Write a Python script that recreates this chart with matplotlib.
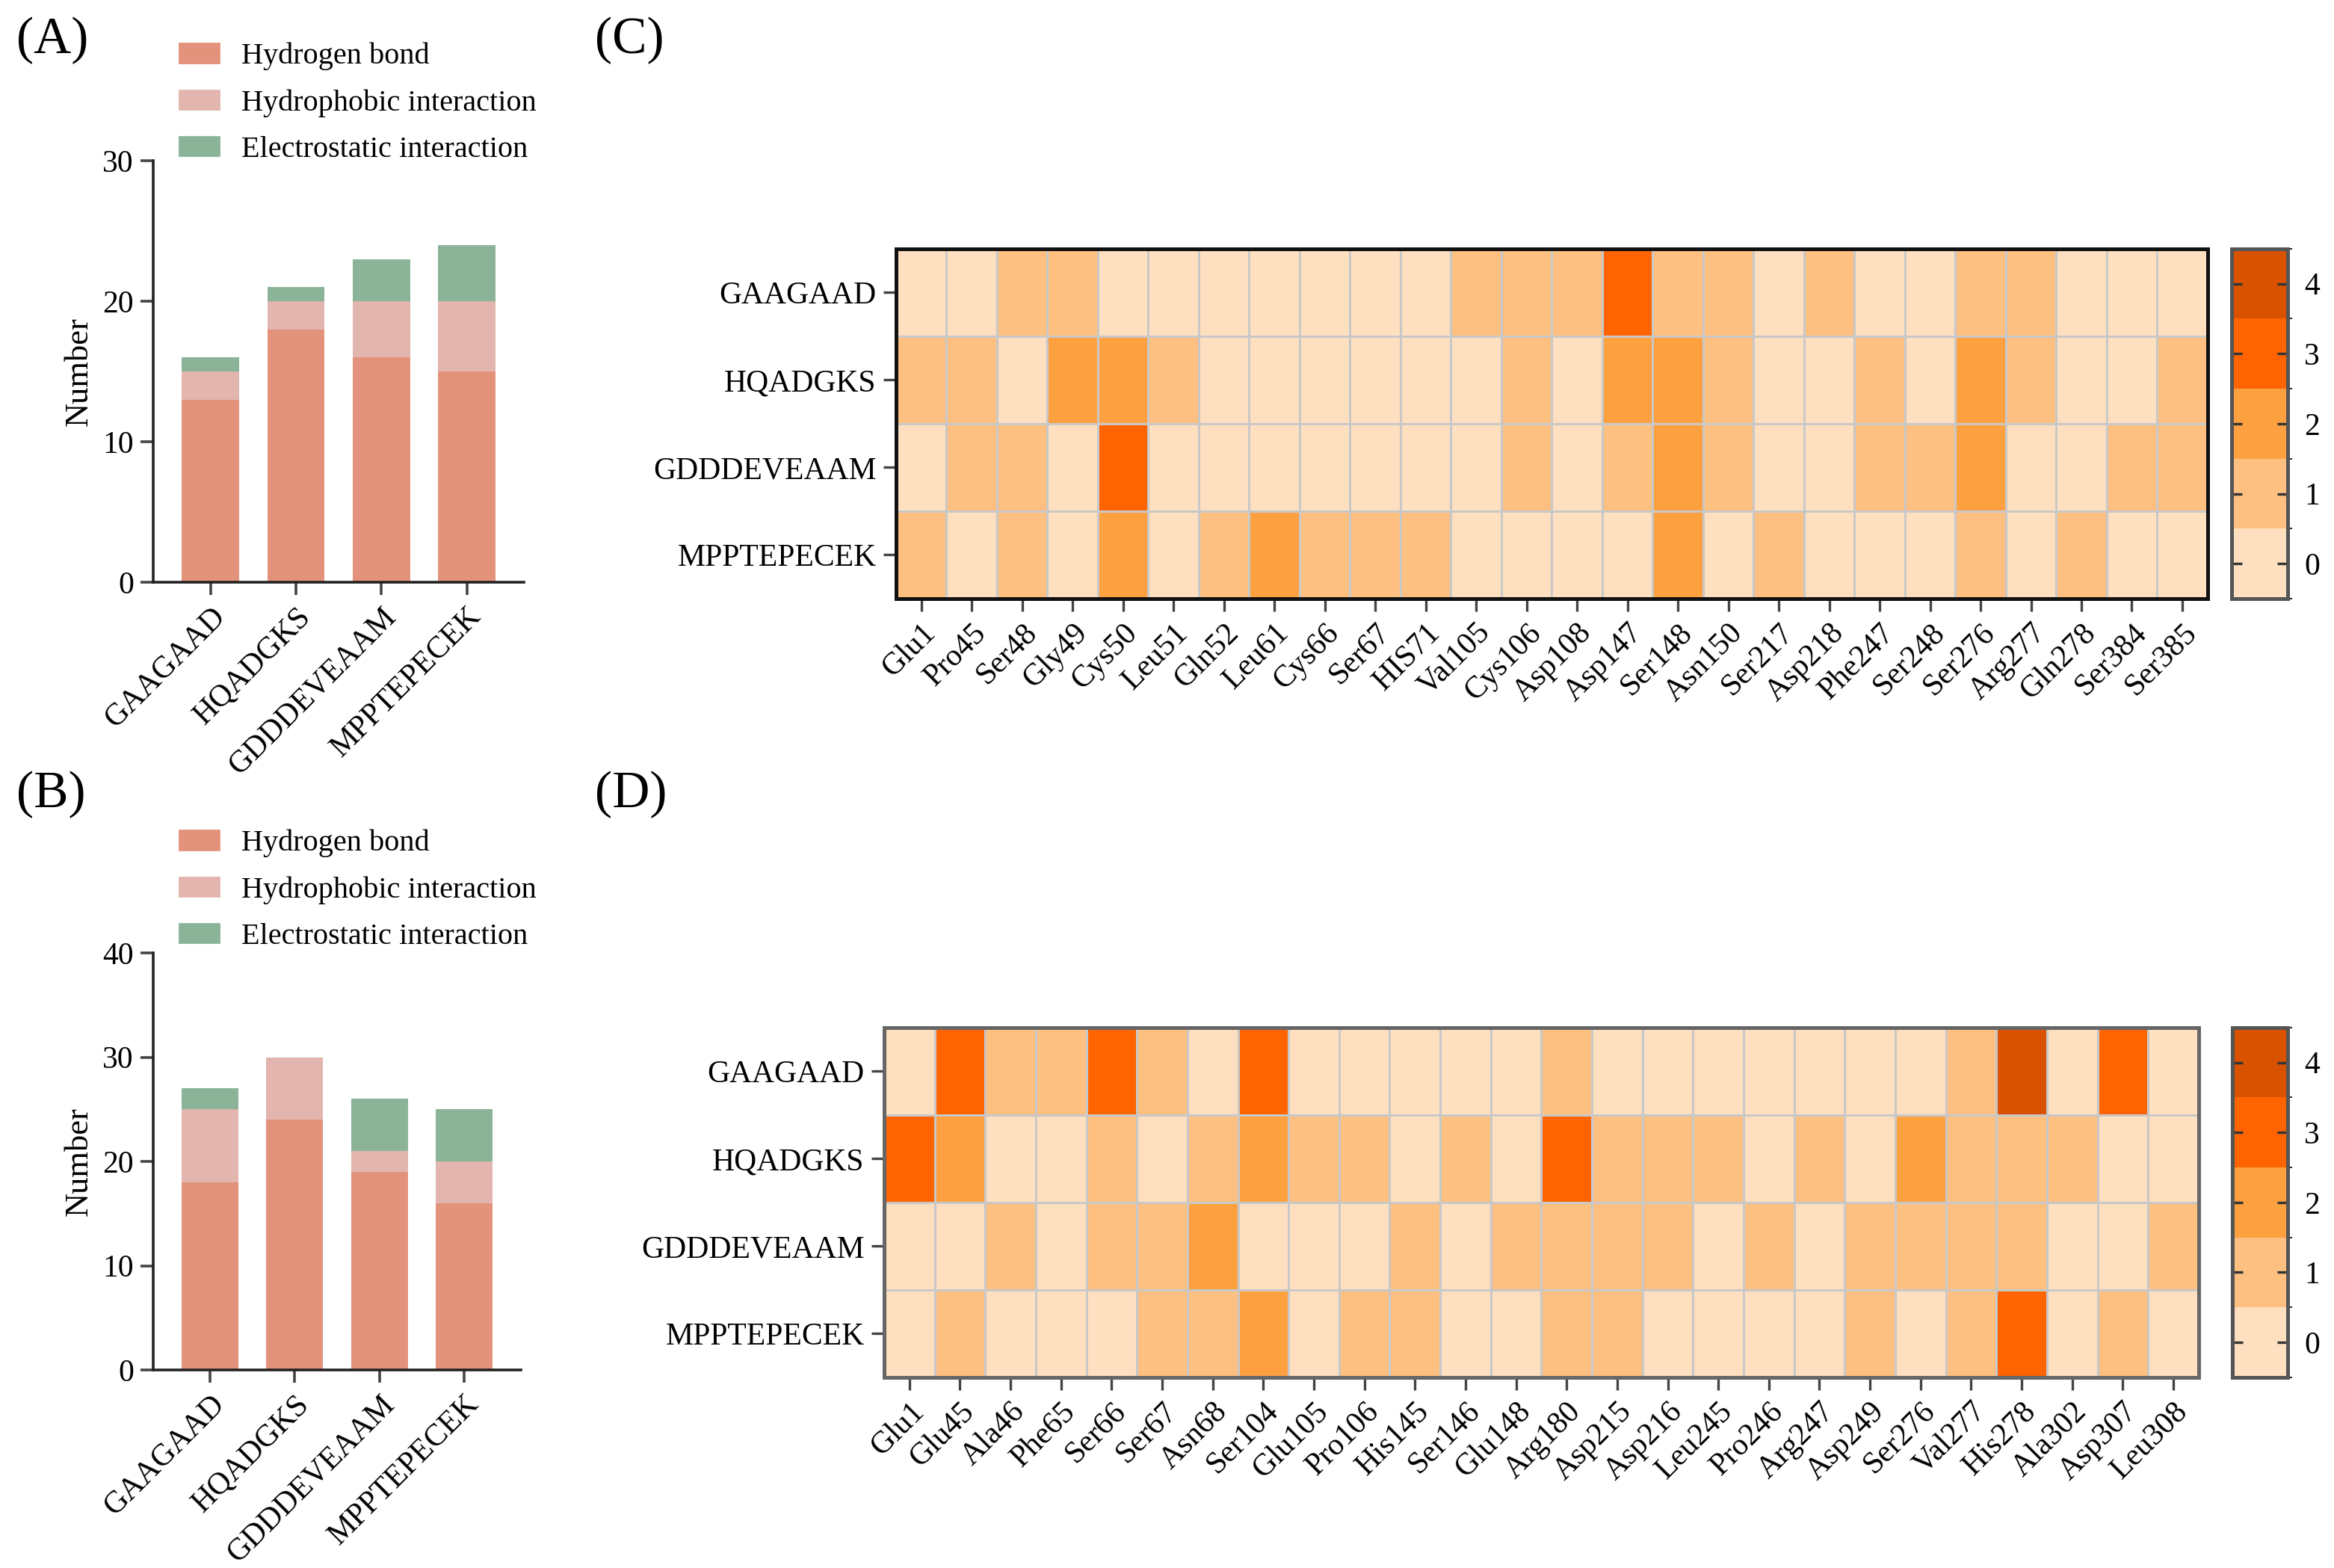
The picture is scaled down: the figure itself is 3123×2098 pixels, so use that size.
import numpy as np
import matplotlib
matplotlib.use("Agg")
import matplotlib.pyplot as plt
from matplotlib.colors import ListedColormap, BoundaryNorm
from matplotlib.patches import Patch

plt.rcParams['font.family'] = ['Liberation Serif', 'DejaVu Serif']
plt.rcParams['font.size'] = 15

peptides = ['GAAGAAD', 'HQADGKS', 'GDDDEVEAAM', 'MPPTEPECEK']
series_names = ['Hydrogen bond', 'Hydrophobic interaction', 'Electrostatic interaction']
series_colors = ['#E3937B', '#E2B5AE', '#8BB397']

# panel A
hbond_a = [13, 18, 16, 15]
hydrophobic_a = [2, 2, 4, 5]
electro_a = [1, 1, 3, 4]

# panel B
hbond_b = [18, 24, 19, 16]
hydrophobic_b = [7, 6, 2, 4]
electro_b = [2, 0, 5, 5]

# panel C
residues_c = ['Glu1', 'Pro45', 'Ser48', 'Gly49', 'Cys50', 'Leu51', 'Gln52', 'Leu61', 'Cys66',
              'Ser67', 'HIS71', 'Val105', 'Cys106', 'Asp108', 'Asp147', 'Ser148', 'Asn150',
              'Ser217', 'Asp218', 'Phe247', 'Ser248', 'Ser276', 'Arg277', 'Gln278', 'Ser384', 'Ser385']
counts_c = [
    [0, 0, 1, 1, 0, 0, 0, 0, 0, 0, 0, 1, 1, 1, 3, 1, 1, 0, 1, 0, 0, 1, 1, 0, 0, 0],
    [1, 1, 0, 2, 2, 1, 0, 0, 0, 0, 0, 0, 1, 0, 2, 2, 1, 0, 0, 1, 0, 2, 1, 0, 0, 1],
    [0, 1, 1, 0, 3, 0, 0, 0, 0, 0, 0, 0, 1, 0, 1, 2, 1, 0, 0, 1, 1, 2, 0, 0, 1, 1],
    [1, 0, 1, 0, 2, 0, 1, 2, 1, 1, 1, 0, 0, 0, 0, 2, 0, 1, 0, 0, 0, 1, 0, 1, 0, 0],
]

# panel D
residues_d = ['Glu1', 'Glu45', 'Ala46', 'Phe65', 'Ser66', 'Ser67', 'Asn68', 'Ser104', 'Glu105',
              'Pro106', 'His145', 'Ser146', 'Glu148', 'Arg180', 'Asp215', 'Asp216', 'Leu245',
              'Pro246', 'Arg247', 'Asp249', 'Ser276', 'Val277', 'His278', 'Ala302', 'Asp307', 'Leu308']
counts_d = [
    [0, 3, 1, 1, 3, 1, 0, 3, 0, 0, 0, 0, 0, 1, 0, 0, 0, 0, 0, 0, 0, 1, 4, 0, 3, 0],
    [3, 2, 0, 0, 1, 0, 1, 2, 1, 1, 0, 1, 0, 3, 1, 1, 1, 0, 1, 0, 2, 1, 1, 1, 0, 0],
    [0, 0, 1, 0, 1, 1, 2, 0, 0, 0, 1, 0, 1, 1, 1, 1, 0, 1, 0, 1, 1, 1, 1, 0, 0, 1],
    [0, 1, 0, 0, 0, 1, 1, 2, 0, 1, 1, 0, 0, 1, 1, 0, 0, 0, 0, 1, 0, 1, 3, 0, 1, 0],
]

cmap = ListedColormap(['#FEDFC0', '#FDC080', '#FDA040', '#FF6400', '#D85200'])
norm = BoundaryNorm([-0.5, 0.5, 1.5, 2.5, 3.5, 4.5], cmap.N)

fig = plt.figure(figsize=(15.615, 10.49), dpi=200)


def bar_panel(rect, hb, hp, el, ymax, step, leg_top):
    ax = fig.add_axes(rect)
    x = np.arange(len(peptides))
    hb, hp, el = np.array(hb), np.array(hp), np.array(el)
    ax.bar(x, hb, 0.67, color=series_colors[0])
    ax.bar(x, hp, 0.67, bottom=hb, color=series_colors[1])
    ax.bar(x, el, 0.67, bottom=hb + hp, color=series_colors[2])
    ax.set_xlim(-0.67, 3.67)
    ax.set_ylim(0, ymax)
    ax.set_yticks(np.arange(0, ymax + 1, step))
    ax.set_xticks(x)
    ax.set_xticklabels(peptides, rotation=45, ha='right', rotation_mode='anchor')
    ax.set_ylabel('Number', fontsize=16)
    for s in ['top', 'right']:
        ax.spines[s].set_visible(False)
    for s in ['left', 'bottom']:
        ax.spines[s].set_linewidth(1.3)
        ax.spines[s].set_color('#222222')
    ax.tick_params(length=6, width=1.3, color='#444444', labelsize=15)
    handles = [Patch(color=c) for c in series_colors]
    fig.legend(handles, series_names, loc='upper left', bbox_to_anchor=(0.077, leg_top),
               frameon=False, fontsize=14.5, borderpad=0, borderaxespad=0,
               handlelength=1.3, handleheight=0.6, handletextpad=0.75, labelspacing=0.62)
    return ax


bar_panel([0.0657, 0.6287, 0.1588, 0.2687], hbond_a, hydrophobic_a, electro_a, 30, 10, 0.973)
bar_panel([0.0657, 0.1263, 0.1575, 0.2659], hbond_b, hydrophobic_b, electro_b, 40, 10, 0.471)


def heat_panel(rect, crect, residues, counts, border):
    ax = fig.add_axes(rect)
    data = np.array(counts)
    mesh = ax.pcolormesh(np.arange(data.shape[1] + 1), np.arange(data.shape[0] + 1), data,
                         cmap=cmap, norm=norm, edgecolors='#C8C8C8', linewidth=1.0)
    ax.set_xlim(0, data.shape[1])
    ax.set_ylim(data.shape[0], 0)
    ax.set_xticks(np.arange(data.shape[1]) + 0.5)
    ax.set_xticklabels(residues, rotation=45, ha='right', rotation_mode='anchor')
    ax.set_yticks(np.arange(data.shape[0]) + 0.5)
    ax.set_yticklabels(peptides)
    for s in ax.spines.values():
        s.set_linewidth(1.8)
        s.set_color(border)
    ax.tick_params(length=6, width=1.2, color='#444444', labelsize=15)
    cax = fig.add_axes(crect)
    cb = fig.colorbar(mesh, cax=cax, ticks=[0, 1, 2, 3, 4])
    cb.outline.set_linewidth(1.8)
    cb.outline.set_edgecolor('#555555')
    cax.tick_params(direction='in', length=5, width=1.2, left=True, right=True,
                    color='#333333', labelsize=15, pad=8)
    return ax


heat_panel([0.3839, 0.6182, 0.5619, 0.2232], [0.9560, 0.6182, 0.0242, 0.2232],
           residues_c, counts_c, '#111111')
heat_panel([0.3788, 0.1216, 0.5632, 0.2231], [0.9566, 0.1216, 0.0236, 0.2231],
           residues_d, counts_d, '#666666')

for lbl, x, y in [('(A)', 0.007, 0.974), ('(B)', 0.007, 0.493),
                  ('(C)', 0.255, 0.974), ('(D)', 0.255, 0.493)]:
    fig.text(x, y, lbl, fontsize=25, va='center', ha='left')

fig.savefig('out.png', dpi=200)
